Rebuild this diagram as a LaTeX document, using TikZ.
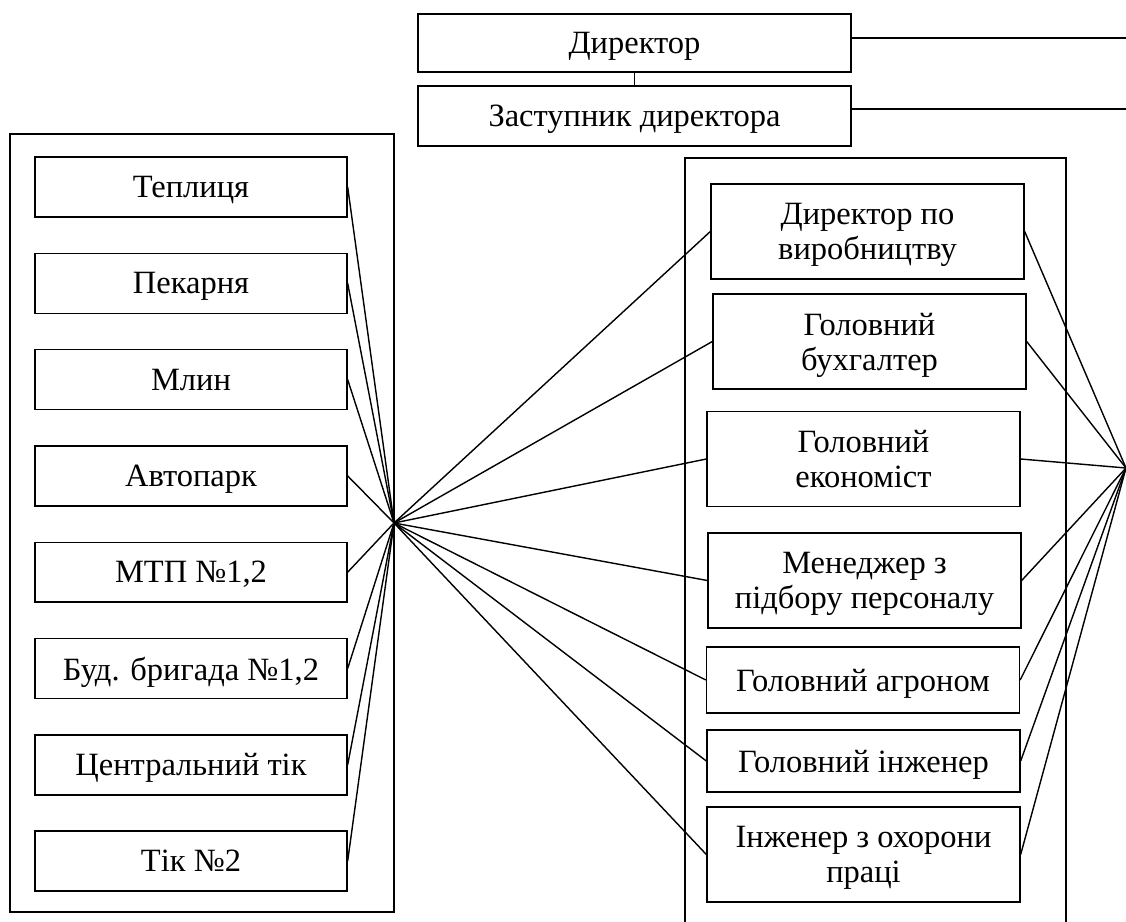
\documentclass[tikz,border=0pt]{standalone}
\usepackage{fontspec}
\setmainfont{Liberation Serif}
\usepackage{tikz}
\usetikzlibrary{positioning,calc}

\begin{document}
\begin{tikzpicture}[x=0.02cm,y=-0.02cm,line width=0.8pt,
    unit/.style={draw,line width=0.8pt,inner sep=0pt,minimum width=6.24cm,minimum height=1.2cm,
      font=\fontsize{18.5}{20}\selectfont,align=center,text depth=0pt},
    dept/.style={unit,minimum width=6.26cm,minimum height=1.9cm},
    head/.style={unit,minimum width=8.66cm}]
  \useasboundingbox (0,0) rectangle (1126,922);
  \node[head,minimum height=1.16cm] (dir) at (634.5,43) {Директор};
  \node[head] (zast) at (634.5,116) {Заступник директора};
  \draw (dir) -- (zast);
  \coordinate (dirend) at (1126,38);
  \coordinate (zastend) at (1126,109);
  \draw (dir.east |- dirend) -- (dirend);
  \draw (zast.east |- zastend) -- (zastend);
  % frames
  \draw (10,134) rectangle (394,912);
  \draw (685,925) -- (685,158) -- (1066,158) -- (1066,925);
  \coordinate (hubL) at (394,523);
  \coordinate (hubR) at (1126,468);
  \foreach \lbl [count=\i] in {Теплиця,Пекарня,Млин,Автопарк,{МТП №1,2},{Буд. бригада №1,2},Центральний тік,Тік №2}{
    \node[unit] (l\i) at (191,{187+96.3*(\i-1)}) {\lbl};
    \draw (l\i.east) -- (hubL);
  }
  \node[dept] (r1) at (867.5,231.5) {Директор по\\виробництву};
  \node[dept] (r2) at (869.5,341.5) {Головний\\бухгалтер};
  \node[dept] (r3) at (863.5,459) {Головний\\економіст};
  \node[dept] (r4) at (864.5,580.5) {Менеджер з\\підбору персоналу};
  \node[dept,minimum height=1.32cm] (r5) at (863,680) {Головний агроном};
  \node[dept,minimum height=1.24cm] (r6) at (863.5,761) {Головний інженер};
  \node[dept] (r7) at (863.5,854.5) {Інженер з охорони\\праці};
  \foreach \i in {1,...,7}{
    \draw (hubL) -- (r\i.west);
    \draw (r\i.east) -- (hubR);
  }
\end{tikzpicture}
\end{document}
